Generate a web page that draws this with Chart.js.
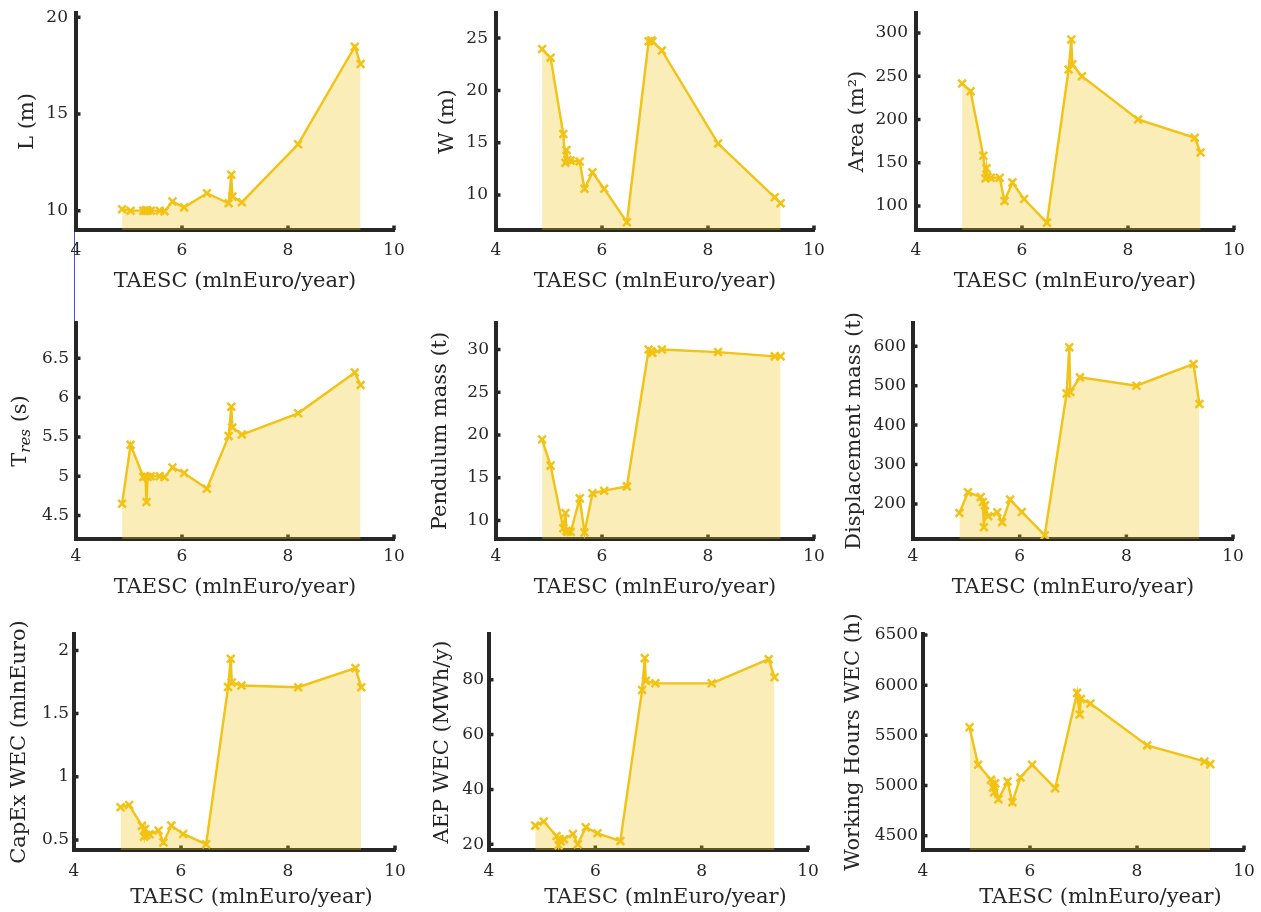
<!DOCTYPE html>
<html>
<head>
<meta charset="utf-8">
<title>TAESC</title>
<script src="https://cdn.jsdelivr.net/npm/chart.js@4.4.1/dist/chart.umd.min.js"></script>
<style>
  html, body { margin: 0; padding: 0; background: #fff; overflow: hidden; }
  body { width: 1261px; height: 912px; position: relative; }
  canvas { position: absolute; }
  .guia { position: absolute; left: 74px; top: 231px; width: 1px; height: 92px; background: #3b5bc4; }
</style>
</head>
<body>
<div class="guia"></div>
<script>
// ==========================================
// 1. DATA (one value per design, sorted by TAESC)
// ==========================================
const taesc = [4.87, 5.03, 5.27, 5.31, 5.33, 5.35, 5.41, 5.58, 5.67, 5.82, 6.04, 6.47, 6.88, 6.93, 6.95, 7.13, 8.19, 9.26, 9.37];

const lengthL = [10.07, 10.0, 10.0, 10.0, 10.02, 10.0, 10.0, 10.0, 9.97, 10.47, 10.17, 10.9, 10.38, 11.86, 10.73, 10.44, 13.43, 18.48, 17.58];
const widthW = [23.95, 23.12, 15.82, 13.08, 14.3, 13.35, 13.3, 13.2, 10.59, 12.16, 10.6, 7.4, 24.7, 24.78, 24.7, 23.82, 14.92, 9.78, 9.2];
const area = [241.5, 232.7, 158, 131.9, 143.5, 133.8, 132.7, 132.7, 105.8, 127.3, 108, 80.8, 257.7, 292.3, 263.8, 250, 200, 178.8, 161.9];
const tRes = [4.65, 5.40, 4.99, 5.0, 4.67, 4.99, 5.0, 5.0, 4.99, 5.11, 5.04, 4.84, 5.51, 5.885, 5.62, 5.53, 5.8, 6.32, 6.16];
const pendulumMass = [19.47, 16.43, 9.1, 10.9, 8.8, 8.7, 8.67, 12.6, 8.6, 13.2, 13.5, 14.0, 30.0, 29.8, 29.6, 30.0, 29.7, 29.2, 29.2];
const displacementMass = [177, 229.6, 217.8, 205, 140.8, 196.6, 168.7, 178.9, 153.5, 211, 179.7, 120.5, 480, 597.5, 484, 521, 500, 555, 453.5];
const capexWec = [0.759, 0.777, 0.611, 0.526, 0.587, 0.539, 0.544, 0.574, 0.479, 0.614, 0.547, 0.466, 1.71, 1.934, 1.746, 1.722, 1.709, 1.86, 1.709];
const aepWec = [26.8, 28.3, 23.0, 19.6, 21.8, 21.0, 21.8, 23.7, 20.0, 26.2, 24.0, 21.2, 76.3, 87.9, 79.6, 78.7, 78.7, 87.5, 80.9];
const workingHours = [5580, 5207, 5057, 4980, 4933, 5023, 4863, 5040, 4833, 5080, 5207, 4973, 5923, 5707, 5863, 5817, 5400, 5240, 5213];

// tick labels
const xTicks = [4, 6, 8, 10];
const ticksL = [10, 15, 20];
const ticksW = [10, 15, 20, 25];
const ticksArea = [100, 150, 200, 250, 300];
const ticksTres = [4.5, 5, 5.5, 6, 6.5];
const ticksPendulum = [10, 15, 20, 25, 30];
const ticksDisplacement = [200, 300, 400, 500, 600];
const ticksCapex = [0.5, 1, 1.5, 2];
const ticksAep = [20, 40, 60, 80];
const ticksHours = [4500, 5000, 5500, 6000, 6500];

const xTitle = 'TAESC (mlnEuro/year)';

// ==========================================
// 2. STYLE AND LAYOUT
// ==========================================
const INK = '#262626';
const GOLD = '#F2C214';
const FILL = 'rgba(242, 194, 20, 0.3)';
const FONT = '"DejaVu Serif"';
const TICK_SIZE = 17;
const TITLE_SIZE = 21;

// room around each axes box inside its canvas
const PAD = { left: 95, top: 45, right: 24, bottom: 72 };

// per row: x tick label padding, y tick label padding, x title offsets
const rows = [
  { xPad: 10.5, yPad: 8, titleDy: 52, titleDx: 0 },
  { xPad: 7.5, yPad: 7, titleDy: 49, titleDx: 0 },
  { xPad: 11, yPad: 5, titleDy: 47.5, titleDx: 17 }
];

// box = [left, top, right, bottom] of the axes on the page
const panels = [
  { y: lengthL, ticks: ticksL, min: 9.0, max: 20.22, title: 'L (m)', box: [76, 13, 394, 230], row: 0, yGap: 48.5 },
  { y: widthW, ticks: ticksW, min: 6.65, max: 27.4, title: 'W (m)', box: [496, 13, 814, 230], row: 0, yGap: 48.5 },
  { y: area, ticks: ticksArea, min: 72.3, max: 323, title: 'Area (m²)', box: [916, 13, 1234, 230], row: 0, yGap: 58.5 },
  { y: tRes, ticks: ticksTres, min: 4.2, max: 6.95, title: 'T_{res} (s)', box: [76, 323, 394, 539], row: 1, yGap: 55 },
  { y: pendulumMass, ticks: ticksPendulum, min: 7.85, max: 33.1, title: 'Pendulum mass (t)', box: [496, 323, 814, 539], row: 1, yGap: 55 },
  { y: displacementMass, ticks: ticksDisplacement, min: 111, max: 659, title: 'Displacement mass (t)', box: [913, 323, 1233, 539], row: 1, yGap: 58 },
  { y: capexWec, ticks: ticksCapex, min: 0.42, max: 2.13, title: 'CapEx WEC (mlnEuro)', box: [74, 634, 395, 850], row: 2, yGap: 54 },
  { y: aepWec, ticks: ticksAep, min: 17.9, max: 96.7, title: 'AEP WEC (MWh/y)', box: [489, 634, 808, 850], row: 2, yGap: 46.5 },
  { y: workingHours, ticks: ticksHours, min: 4357, max: 6510, title: 'Working Hours WEC (h)', box: [923, 634, 1244, 850], row: 2, yGap: 69 }
];

Chart.defaults.font.family = FONT;
Chart.defaults.color = INK;

// ==========================================
// 3. PLUGINS
// ==========================================
// short tick marks pointing into the plot, drawn under the filled area
const inwardTicks = {
  id: 'inwardTicks',
  beforeDatasetsDraw(chart) {
    const { ctx, chartArea: a, scales: { x, y } } = chart;
    ctx.save();
    ctx.strokeStyle = INK;
    ctx.lineWidth = 3.5;
    ctx.beginPath();
    x.ticks.forEach(t => {
      const px = x.getPixelForValue(t.value);
      ctx.moveTo(px, a.bottom);
      ctx.lineTo(px, a.bottom - 4.5);
    });
    y.ticks.forEach(t => {
      const py = y.getPixelForValue(t.value);
      ctx.moveTo(a.left, py);
      ctx.lineTo(a.left + 4.5, py);
    });
    ctx.stroke();
    ctx.restore();
  }
};

// writes "T_{res}" style labels with an italic subscript
function drawRichText(ctx, text, cx, cy) {
  const runs = [];
  text.split(/(_\{[^}]*\})/).forEach(part => {
    if (!part) return;
    if (part.startsWith('_{')) {
      runs.push({ t: part.slice(2, -1), font: `italic ${Math.round(TITLE_SIZE * 0.72)}px ${FONT}`, dy: 5 });
    } else {
      runs.push({ t: part, font: `${TITLE_SIZE}px ${FONT}`, dy: 0 });
    }
  });
  let total = 0;
  runs.forEach(r => { ctx.font = r.font; r.w = ctx.measureText(r.t).width; total += r.w; });
  let x = cx - total / 2;
  ctx.textAlign = 'left';
  runs.forEach(r => {
    ctx.font = r.font;
    ctx.fillText(r.t, x, cy + r.dy);
    x += r.w;
  });
}

const axisTitles = {
  id: 'axisTitles',
  afterDraw(chart, args, opts) {
    const { ctx, chartArea: a } = chart;
    ctx.save();
    ctx.fillStyle = INK;
    ctx.textBaseline = 'middle';
    drawRichText(ctx, opts.x, (a.left + a.right) / 2 + opts.xDx, a.bottom + opts.xDy);
    ctx.translate(a.left - opts.yGap, (a.top + a.bottom) / 2);
    ctx.rotate(-Math.PI / 2);
    drawRichText(ctx, opts.y, 0, 0);
    ctx.restore();
  }
};

// ==========================================
// 4. PANELS
// ==========================================
panels.forEach(p => {
  const row = rows[p.row];
  const [l, t, r, b] = p.box;

  const canvas = document.createElement('canvas');
  canvas.width = r - l + PAD.left + PAD.right;
  canvas.height = b - t + PAD.top + PAD.bottom;
  canvas.style.left = (l - PAD.left) + 'px';
  canvas.style.top = (t - PAD.top) + 'px';
  document.body.appendChild(canvas);

  new Chart(canvas, {
    type: 'line',
    data: {
      datasets: [{
        data: taesc.map((x, i) => ({ x, y: p.y[i] })),
        borderColor: GOLD,
        backgroundColor: FILL,
        fill: 'start',
        borderWidth: 2.4,
        tension: 0,
        pointStyle: 'crossRot',
        pointRadius: 5.5,
        pointBorderWidth: 2.5,
        pointBorderColor: GOLD,
        pointBackgroundColor: GOLD
      }]
    },
    options: {
      responsive: false,
      animation: false,
      devicePixelRatio: 1,
      events: [],
      layout: { padding: { left: 0, top: PAD.top, right: PAD.right, bottom: 0 } },
      plugins: {
        legend: { display: false },
        tooltip: { enabled: false },
        axisTitles: { x: xTitle, y: p.title, yGap: p.yGap, xDx: row.titleDx, xDy: row.titleDy }
      },
      scales: {
        x: {
          type: 'linear',
          min: 4,
          max: 10,
          afterBuildTicks: s => { s.ticks = xTicks.map(v => ({ value: v })); },
          afterFit: s => { s.height = PAD.bottom; },
          grid: { display: false, drawTicks: false },
          border: { color: INK, width: 4 },
          ticks: { color: INK, font: { size: TICK_SIZE }, padding: row.xPad, maxRotation: 0, autoSkip: false, callback: v => String(v) }
        },
        y: {
          type: 'linear',
          min: p.min,
          max: p.max,
          afterBuildTicks: s => { s.ticks = p.ticks.map(v => ({ value: v })); },
          afterFit: s => { s.width = PAD.left; },
          grid: { display: false, drawTicks: false },
          border: { color: INK, width: 4 },
          ticks: { color: INK, font: { size: TICK_SIZE }, padding: row.yPad, autoSkip: false, callback: v => String(v) }
        }
      }
    },
    plugins: [inwardTicks, axisTitles]
  });
});
</script>
</body>
</html>
